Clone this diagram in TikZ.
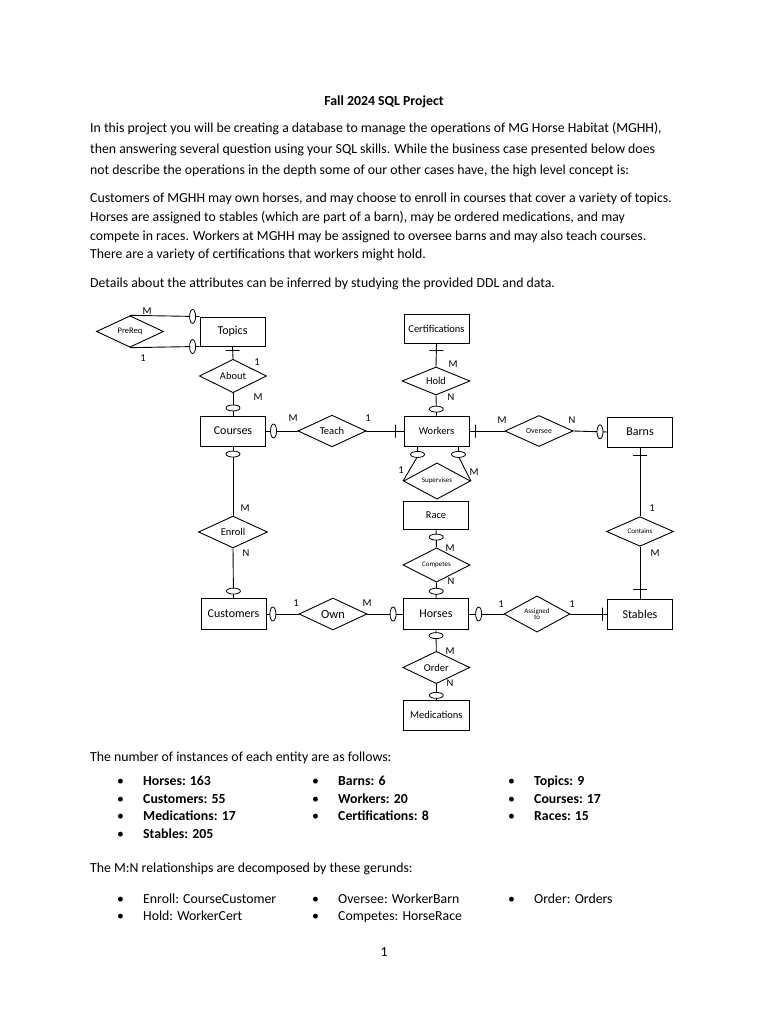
\documentclass[tikz,border=0pt]{standalone}
\usepackage{fontspec}
\setmainfont{Carlito}
\usetikzlibrary{shapes.geometric}
\begin{document}
\begin{tikzpicture}[x=1pt,y=-1pt,
  txt/.style={anchor=base west, inner sep=0, font=\fontsize{13.8}{16}\selectfont},
  btxt/.style={txt, font=\fontsize{13.8}{16}\selectfont\bfseries},
  ent/.style={draw, rectangle, inner sep=0, minimum width=65, minimum height=30, line width=0.9pt, font=\fontsize{12}{12}\selectfont},
  entsm/.style={ent, font=\fontsize{10.5}{11}\selectfont},
  rel/.style={draw, diamond, inner sep=0, minimum width=68, minimum height=29, line width=0.9pt, fill=white, font=\fontsize{10.5}{11}\selectfont},
  relsm/.style={rel, font=\fontsize{7}{7.5}\selectfont},
  ovv/.style={draw, fill=white, ellipse, inner sep=0, minimum width=6, minimum height=14, line width=0.8pt},
  ovh/.style={draw, fill=white, ellipse, inner sep=0, minimum width=14, minimum height=6, line width=0.8pt},
  tkv/.style={draw, rectangle, inner sep=0, minimum width=0, minimum height=13, line width=0.8pt},
  tkh/.style={draw, rectangle, inner sep=0, minimum width=14, minimum height=0, line width=0.8pt},
  lbl/.style={inner sep=0, font=\fontsize{10.5}{11}\selectfont},
  conn/.style={line width=0.9pt}
]
\fill[white] (0,0) rectangle (768,1024);
\useasboundingbox (0,0) rectangle (768,1024);

% ---------- header text ----------
\node[anchor=base, inner sep=0, font=\fontsize{13.8}{16}\selectfont\bfseries] (title) at (384,105.5) {Fall 2024 SQL Project};
\node[txt] (p1a) at (90,132.5) {In this project you will be creating a database to manage the operations of MG Horse Habitat (MGHH),};
\node[txt] (p1b) at (90,153.5) {then answering several question using your SQL skills. While the business case presented below does};
\node[txt] (p1c) at (90,174.5) {not describe the operations in the depth some of our other cases have, the high level concept is:};
\node[txt] (p2a) at (90,202.5) {Customers of MGHH may own horses, and may choose to enroll in courses that cover a variety of topics.};
\node[txt] (p2b) at (90,221.5) {Horses are assigned to stables (which are part of a barn), may be ordered medications, and may};
\node[txt] (p2c) at (90,240.5) {compete in races. Workers at MGHH may be assigned to oversee barns and may also teach courses.};
\node[txt] (p2d) at (90,258.5) {There are a variety of certifications that workers might hold.};
\node[txt] (p3) at (90,287.5) {Details about the attributes can be inferred by studying the provided DDL and data.};

% ---------- entities ----------
\node[ent] (topics) at (232.5,331.5) [minimum height=29] {Topics};
\node[ent] (courses) at (233,431) {Courses};
\node[ent] (customers) at (233.5,614) [minimum height=31] {Customers};
\node[entsm] (cert) at (436.5,328.5) [minimum height=29] {Certifications};
\node[entsm] (workers) at (436.5,431) {Workers};
\node[entsm] (race) at (436,515.5) [minimum height=28] {Race};
\node[ent] (horses) at (436,614) [minimum height=31] {Horses};
\node[entsm] (meds) at (436.3,715) [minimum width=66] {Medications};
\node[ent] (barns) at (640,432) {Barns};
\node[ent] (stables) at (640,614) {Stables};

% ---------- relationships ----------
\node[rel, font=\fontsize{8.5}{9}\selectfont] (prereq) at (130,331.5) [minimum width=67] {PreReq};
\node[rel] (about) at (233,376) [minimum width=67, minimum height=28] {About};
\node[rel] (teach) at (332,431) {Teach};
\node[rel] (hold) at (436,381) [minimum height=28] {Hold};
\node[rel, font=\fontsize{7.8}{8}\selectfont] (oversee) at (539,431) {Oversee};
\node[relsm] (sup) at (437,481) [minimum width=67, minimum height=28] {Supervises};
\node[relsm] (competes) at (436.5,565) [minimum width=67, minimum height=28] {Competes};
\node[rel] (enroll) at (233,532) [minimum width=69] {Enroll};
\node[rel, font=\fontsize{12.5}{13}\selectfont] (own) at (333,614) [minimum height=30] {Own};
\node[relsm, align=center] (assigned) at (537,614) [minimum width=66, minimum height=31] {Assigned\\[-1.5pt]to};
\node[relsm] (contains) at (640,531.5) [minimum width=67] {Contains};
\node[rel] (order) at (436.3,667.5) [minimum width=67, minimum height=28.5] {Order};

% ---------- connectors ----------
\draw[conn] (prereq.north) -- node[ovv,pos=0.9]{} (topics.north west);
\draw[conn] (prereq.south) -- node[ovv,pos=0.9]{} (topics.south west);
\draw[conn] (topics.south) -- node[tkh,pos=0.36]{} (about.north);
\draw[conn] (about.south) -- node[ovh,pos=0.66]{} (courses.north);
\draw[conn] (courses.east) -- node[ovv,pos=0.24]{} (teach.west);
\draw[conn] (teach.east) -- node[tkv,pos=0.79]{} (workers.west);
\draw[conn] (cert.south) -- node[tkh,pos=0.3]{} (hold.north);
\draw[conn] (hold.south) -- node[ovh,pos=0.68]{} (workers.north);
\draw[conn] (workers.east) -- node[tkv,pos=0.17]{} (oversee.west);
\draw[conn] (oversee.east) -- node[ovv,pos=0.79]{} (barns.west);
\draw[conn] ([xshift=14pt]workers.south west) -- node[ovh,pos=0.8]{} ++(0,10) -- (sup.west);
\draw[conn] ([xshift=-11pt]workers.south east) -- node[ovh,pos=0.8]{} ++(0,10) -- (sup.east);
\draw[conn] (race.south) -- node[ovh,pos=0.41]{} (competes.north);
\draw[conn] (competes.south) -- node[ovh,pos=0.56]{} (horses.north);
\draw[conn] (courses.south) -- node[ovh,pos=0.11]{} (enroll.north);
\draw[conn] (enroll.south) -- node[ovh,pos=0.86]{} (customers.north);
\draw[conn] (customers.east) -- node[ovv,pos=0.2]{} (own.west);
\draw[conn] (own.east) -- node[ovv,pos=0.72]{} (horses.west);
\draw[conn] (horses.east) -- node[ovv,pos=0.28]{} (assigned.west);
\draw[conn] (assigned.east) -- node[tkv,pos=0.87]{} (stables.west);
\draw[conn] (barns.south) -- node[tkh,pos=0.114]{} (contains.north);
\draw[conn] (contains.south) -- node[tkh,pos=0.83]{} (stables.north);
\draw[conn] (horses.south) -- node[ovh,pos=0.27]{} (order.north);
\draw[conn] (order.south) -- node[ovh,pos=0.73]{} (meds.north);

% ---------- cardinality labels ----------
\node[lbl] (lpm) at (147,311) {M};
\node[lbl] (lp1) at (143,358) {1};
\node[lbl] (la1) at (257,362) {1};
\node[lbl] (lam) at (258,397) {M};
\node[lbl] (ltm) at (293,418) {M};
\node[lbl] (lt1) at (368,418) {1};
\node[lbl] (lhm) at (453,364) {M};
\node[lbl] (lhn) at (451,397) {N};
\node[lbl] (lom) at (502,420) {M};
\node[lbl] (lon) at (572,420) {N};
\node[lbl] (ls1) at (401,470) {1};
\node[lbl] (lsm) at (474,472) {M};
\node[lbl] (lem) at (245,508) {M};
\node[lbl] (len) at (246,553) {N};
\node[lbl] (lcm) at (450,548) {M};
\node[lbl] (lcn) at (451,581) {N};
\node[lbl] (lc1) at (652,508) {1};
\node[lbl] (lcsm) at (655,553) {M};
\node[lbl] (lw1) at (296,603) {1};
\node[lbl] (lwm) at (367,603) {M};
\node[lbl] (lg1) at (501,604) {1};
\node[lbl] (lg2) at (572,604) {1};
\node[lbl] (lrm) at (450,651) {M};
\node[lbl] (lrn) at (450,683) {N};

% ---------- bottom text ----------
\node[txt] (q1) at (90,761.5) {The number of instances of each entity are as follows:};
\foreach \y/\a/\b/\c [count=\i] in {785.5/Horses: 163/Barns: 6/Topics: 9,
                          803.5/Customers: 55/Workers: 20/Courses: 17,
                          820.5/Medications: 17/Certifications: 8/Races: 15}{
  \node[txt] (ba\i) at (117,\y) {•};
  \node[btxt] (ta\i) at (143,\y) {\a};
  \node[txt] (bb\i) at (312,\y) {•};
  \node[btxt] (tb\i) at (338,\y) {\b};
  \node[txt] (bc\i) at (508,\y) {•};
  \node[btxt] (tc\i) at (534,\y) {\c};
}
\node[txt] (ba4) at (117,838.5) {•};
\node[btxt] (ta4) at (143,838.5) {Stables: 205};
\node[txt] (q2) at (90,872.5) {The M:N relationships are decomposed by these gerunds:};
\node[txt] (g1b) at (117,903.5) {•};
\node[txt] (g1) at (143,903.5) {Enroll: CourseCustomer};
\node[txt] (g2b) at (312,903.5) {•};
\node[txt] (g2) at (338,903.5) {Oversee: WorkerBarn};
\node[txt] (g3b) at (508,903.5) {•};
\node[txt] (g3) at (534,903.5) {Order: Orders};
\node[txt] (g4b) at (117,920.5) {•};
\node[txt] (g4) at (143,920.5) {Hold: WorkerCert};
\node[txt] (g5b) at (312,920.5) {•};
\node[txt] (g5) at (338,920.5) {Competes: HorseRace};
\node[anchor=base, inner sep=0, font=\fontsize{13.8}{16}\selectfont] (pnum) at (384,956.5) {1};
\end{tikzpicture}
\end{document}
